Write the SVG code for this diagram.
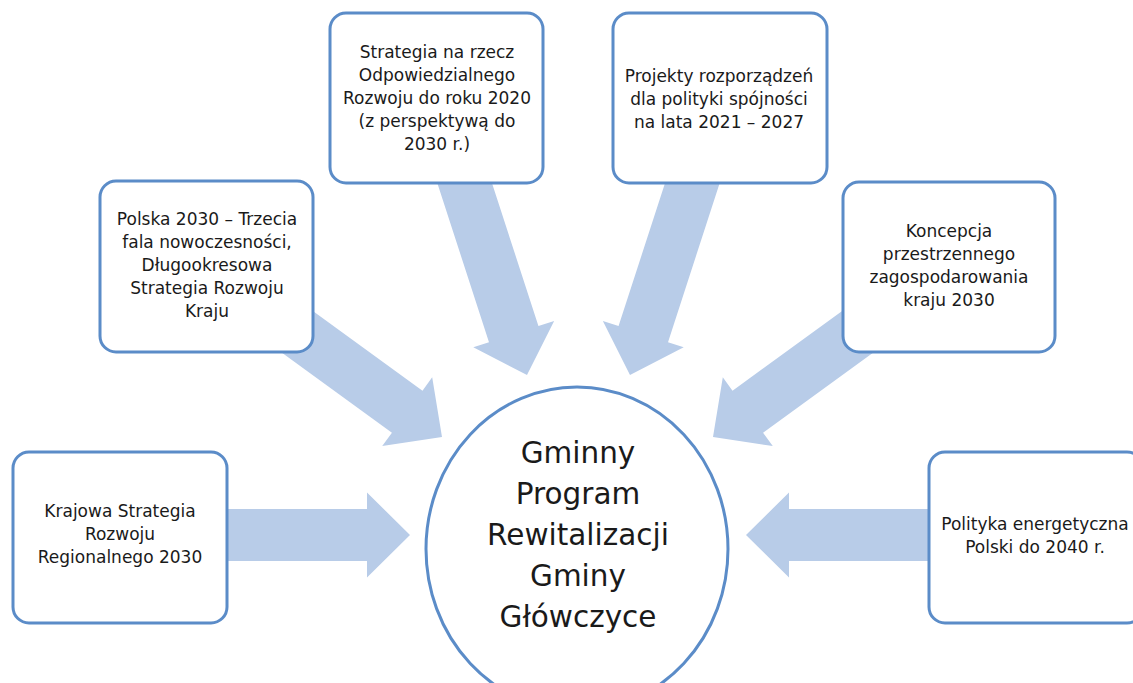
<svg xmlns="http://www.w3.org/2000/svg" width="1133" height="683" viewBox="0 0 1133 683">
<defs>
<style>
.box{fill:#ffffff;stroke:#5B8CC8;stroke-width:3}
.circ{fill:#ffffff;stroke:#5B8CC8;stroke-width:3}
.arr{fill:#B8CCE8;stroke:none}
.t{font-family:"DejaVu Sans","Open Sans",sans-serif;font-size:17px;fill:#1a1a1a;text-anchor:middle}
.c{font-family:"DejaVu Sans","Open Sans",sans-serif;font-size:29.5px;fill:#1a1a1a;text-anchor:middle}
</style>
<polygon id="arrL" points="0,0 -43,-42.5 -43,-26 -190,-26 -190,26 -43,26 -43,42.5"/>
<polygon id="arrS" points="0,0 -43,-42.5 -43,-26 -220,-26 -220,26 -43,26 -43,42.5"/>
</defs>
<rect width="1133" height="683" fill="#ffffff"/>
<g id="connectors" class="arr">
<use href="#arrL" transform="translate(410,535)"/>
<use href="#arrL" transform="translate(746,535) rotate(180)"/>
<use href="#arrL" transform="translate(442,437) rotate(36)"/>
<use href="#arrL" transform="translate(713,437) rotate(144)"/>
<use href="#arrS" transform="translate(527,375) rotate(72)"/>
<use href="#arrS" transform="translate(630,375) rotate(108)"/>
</g>
<g id="center">
<ellipse class="circ" cx="577" cy="549" rx="151" ry="162"/>
<text class="c"><tspan x="578" y="463">Gminny</tspan><tspan x="578" y="504">Program</tspan><tspan x="578" y="545">Rewitalizacji</tspan><tspan x="578" y="586">Gminy</tspan><tspan x="578" y="627">Główczyce</tspan></text>
</g>
<g id="n1">
<rect class="box" x="13" y="452" width="214" height="171" rx="16"/>
<text class="t"><tspan x="120" y="517">Krajowa Strategia</tspan><tspan x="120" y="540">Rozwoju</tspan><tspan x="120" y="563">Regionalnego 2030</tspan></text>
</g>
<g id="n2">
<rect class="box" x="100" y="181" width="213" height="171" rx="16"/>
<text class="t"><tspan x="207" y="225">Polska 2030 – Trzecia</tspan><tspan x="207" y="248">fala nowoczesności,</tspan><tspan x="207" y="271">Długookresowa</tspan><tspan x="207" y="294">Strategia Rozwoju</tspan><tspan x="207" y="317">Kraju</tspan></text>
</g>
<g id="n3">
<rect class="box" x="330" y="13" width="213" height="170" rx="16"/>
<text class="t"><tspan x="437" y="58">Strategia na rzecz</tspan><tspan x="437" y="81">Odpowiedzialnego</tspan><tspan x="437" y="104">Rozwoju do roku 2020</tspan><tspan x="437" y="127">(z perspektywą do</tspan><tspan x="437" y="150">2030 r.)</tspan></text>
</g>
<g id="n4">
<rect class="box" x="613" y="13" width="214" height="170" rx="16"/>
<text class="t"><tspan x="719" y="82">Projekty rozporządzeń</tspan><tspan x="719" y="105">dla polityki spójności</tspan><tspan x="719" y="128">na lata 2021 – 2027</tspan></text>
</g>
<g id="n5">
<rect class="box" x="843" y="182" width="212" height="170" rx="16"/>
<text class="t"><tspan x="949" y="237">Koncepcja</tspan><tspan x="949" y="260">przestrzennego</tspan><tspan x="949" y="283">zagospodarowania</tspan><tspan x="949" y="306">kraju 2030</tspan></text>
</g>
<g id="n6">
<rect class="box" x="929" y="452" width="214" height="171" rx="16"/>
<text class="t"><tspan x="1035" y="530">Polityka energetyczna</tspan><tspan x="1035" y="553">Polski do 2040 r.</tspan></text>
</g>
</svg>
